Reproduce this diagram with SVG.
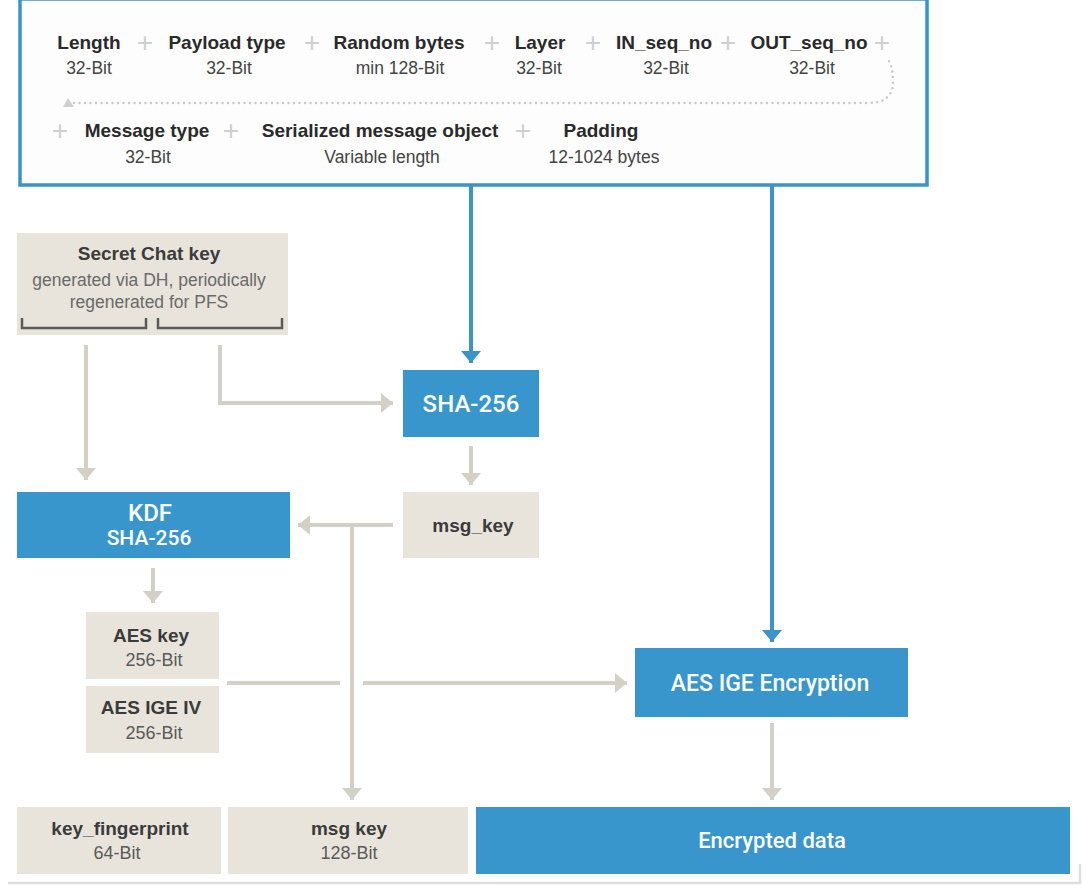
<svg xmlns="http://www.w3.org/2000/svg" width="1086" height="890" viewBox="0 0 1086 890">
<style>
.t{font-family:"Liberation Sans",Arial,sans-serif;font-weight:bold;font-size:19px;fill:#2a2a2a;text-anchor:middle;dominant-baseline:central}
.s{font-family:"Liberation Sans",Arial,sans-serif;font-size:17.5px;fill:#444;text-anchor:middle;dominant-baseline:central}
.p{font-family:"Liberation Sans",Arial,sans-serif;font-size:28px;fill:#cfcfcf;text-anchor:middle;dominant-baseline:central}
.w{font-family:Roboto,"Liberation Sans",sans-serif;font-weight:500;fill:#ffffff;text-anchor:middle;dominant-baseline:central}
.bt{font-family:"Liberation Sans",Arial,sans-serif;font-weight:bold;font-size:19px;fill:#3b3b3b;text-anchor:middle;dominant-baseline:central}
.bs{font-family:"Liberation Sans",Arial,sans-serif;font-size:18px;fill:#5a5a5a;text-anchor:middle;dominant-baseline:central}
.beige{fill:#e8e4dc}
.blue{fill:#3896cd}
.gc{fill:none;stroke:#d5d0c7;stroke-width:4}
.bc{fill:none;stroke:#3a93c9;stroke-width:4}
</style>
<defs>
<marker id="ag" markerUnits="userSpaceOnUse" viewBox="0 0 12 20" refX="12" refY="10" markerWidth="12" markerHeight="20" orient="auto">
<path d="M0,0 L12,10 L0,20 z" fill="#d5d0c7"/>
</marker>
<marker id="ab" markerUnits="userSpaceOnUse" viewBox="0 0 12 20" refX="12" refY="10" markerWidth="12" markerHeight="20" orient="auto">
<path d="M0,0 L12,10 L0,20 z" fill="#3a93c9"/>
</marker>
</defs>
<rect width="1086" height="890" fill="#ffffff"/>

<g id="packet">
<rect x="20" y="-1" width="907" height="186" fill="#fdfdfd" stroke="#3a93c9" stroke-width="3.5"/>
<path d="M74 103 H868 Q893 103 893 82 Q893 64 886 57" fill="none" stroke="#c9c9c9" stroke-width="2.5" stroke-linecap="round" stroke-dasharray="0 5.5"/>
<path d="M68 98 L63 107 L74 107 z" fill="#cfcfcf"/>
<text class="t" x="89" y="42">Length</text>
<text class="s" x="89" y="68">32-Bit</text>
<text class="p" x="145" y="42">+</text>
<text class="t" x="227" y="42">Payload type</text>
<text class="s" x="229" y="68">32-Bit</text>
<text class="p" x="312" y="42">+</text>
<text class="t" x="399" y="42">Random bytes</text>
<text class="s" x="400" y="68">min 128-Bit</text>
<text class="p" x="492" y="42">+</text>
<text class="t" x="540" y="42">Layer</text>
<text class="s" x="539" y="68">32-Bit</text>
<text class="p" x="593" y="42">+</text>
<text class="t" x="664" y="42">IN_seq_no</text>
<text class="s" x="666" y="68">32-Bit</text>
<text class="p" x="728" y="42">+</text>
<text class="t" x="809" y="42">OUT_seq_no</text>
<text class="s" x="812" y="68">32-Bit</text>
<text class="p" x="882" y="42">+</text>
<text class="p" x="60" y="130">+</text>
<text class="t" x="147" y="130">Message type</text>
<text class="s" x="148" y="157">32-Bit</text>
<text class="p" x="231" y="130">+</text>
<text class="t" x="380" y="130">Serialized message object</text>
<text class="s" x="382" y="157">Variable length</text>
<text class="p" x="523" y="130">+</text>
<text class="t" x="601" y="130">Padding</text>
<text class="s" x="604" y="157">12-1024 bytes</text>
</g>

<g id="secret-key">
<rect class="beige" x="17" y="233" width="271" height="102"/>
<text class="bt" x="149" y="253">Secret Chat key</text>
<text class="bs" x="149" y="280" style="fill:#6a6a6a;font-size:17.5px">generated via DH, periodically</text>
<text class="bs" x="149" y="302" style="fill:#6a6a6a;font-size:17.5px">regenerated for PFS</text>
<path d="M22 318 V328 H146 V318 M158 318 V328 H282 V318" fill="none" stroke="#5a5a5a" stroke-width="2.5"/>
</g>

<g id="sha256">
<rect class="blue" x="403" y="370" width="136" height="67"/>
<text class="w" x="471" y="404" font-size="24">SHA-256</text>
</g>

<g id="kdf">
<rect class="blue" x="17" y="492" width="273" height="66"/>
<text class="w" x="150" y="513" font-size="24">KDF</text>
<text class="w" x="149" y="538" font-size="21">SHA-256</text>
</g>

<g id="msg-key">
<rect class="beige" x="403" y="492" width="136" height="66"/>
<text class="bt" x="473" y="525">msg_key</text>
</g>

<g id="aes-key">
<rect class="beige" x="86" y="612" width="133" height="67"/>
<text class="bt" x="151" y="635">AES key</text>
<text class="bs" x="154" y="660">256-Bit</text>
</g>

<g id="aes-iv">
<rect class="beige" x="86" y="686" width="133" height="67"/>
<text class="bt" x="151" y="707">AES IGE IV</text>
<text class="bs" x="154" y="733">256-Bit</text>
</g>

<g id="aes-enc">
<rect class="blue" x="635" y="648" width="273" height="69"/>
<text class="w" x="770" y="683" font-size="23">AES IGE Encryption</text>
</g>

<g id="key-fingerprint">
<rect class="beige" x="17" y="807" width="204" height="67"/>
<text class="bt" x="120" y="828">key_fingerprint</text>
<text class="bs" x="117" y="853">64-Bit</text>
</g>

<g id="msg-key-out">
<rect class="beige" x="228" y="807" width="240" height="67"/>
<text class="bt" x="349" y="828">msg key</text>
<text class="bs" x="349" y="853">128-Bit</text>
</g>

<g id="encrypted-data">
<rect class="blue" x="476" y="807" width="594" height="67"/>
<text class="w" x="772" y="840" font-size="22">Encrypted data</text>
</g>

<g id="connectors">
<path class="bc" d="M471 186 V363" marker-end="url(#ab)"/>
<path class="bc" d="M772 186 V642" marker-end="url(#ab)"/>
<path class="gc" d="M86 345 V480" marker-end="url(#ag)"/>
<path class="gc" d="M220 345 V403 H393" marker-end="url(#ag)"/>
<path class="gc" d="M471 446 V485" marker-end="url(#ag)"/>
<path class="gc" d="M393 525 H298" marker-end="url(#ag)"/>
<path class="gc" d="M352 525 V800" marker-end="url(#ag)"/>
<path class="gc" d="M153 568 V603" marker-end="url(#ag)"/>
<path class="gc" d="M227 683 H340"/>
<path class="gc" d="M363 683 H627" marker-end="url(#ag)"/>
<path class="gc" d="M772 723 V800" marker-end="url(#ag)"/>
<path d="M8 883 H1080 V864" fill="none" stroke="#dedede" stroke-width="2.5"/>
</g>
</svg>
